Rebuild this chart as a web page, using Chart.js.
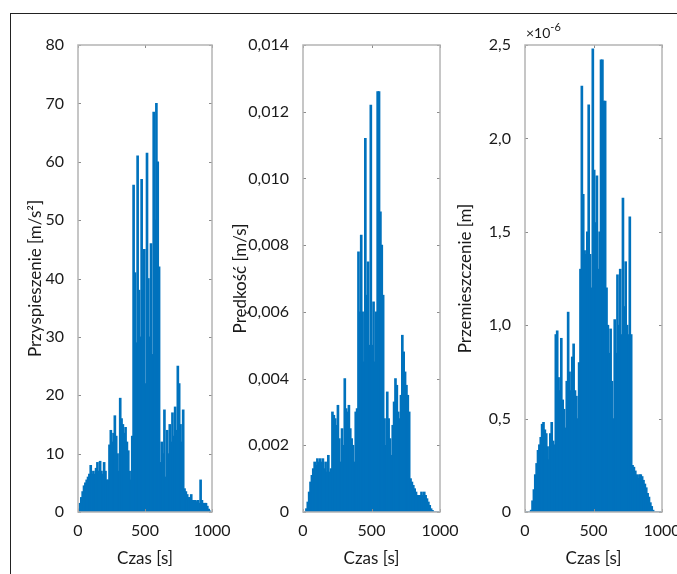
<!DOCTYPE html>
<html>
<head>
<meta charset="utf-8">
<script src="https://cdn.jsdelivr.net/npm/chart.js@4.4.1/dist/chart.umd.min.js"></script>
<style>
    body { margin: 0; background: #fff; overflow: hidden; width: 677px; height: 574px; position: relative; }
    .frame { position: absolute; left: 10px; top: 13px; width: 700px; height: 600px; border-left: 1px solid #222; border-top: 1px solid #222; }
    canvas { position: absolute; top: 20px; }
</style>
</head>
<body>
<div class="frame"></div>
<canvas id="accChart" width="220" height="554" style="left:12px"></canvas>
<canvas id="velChart" width="238" height="554" style="left:222px"></canvas>
<canvas id="dispChart" width="237" height="554" style="left:445px"></canvas>
<script>
// time bins [s]
const timeBins = [5, 15, 25, 35, 45, 55, 65, 75, 85, 95,
    105, 115, 125, 135, 145, 155, 165, 175, 185, 195,
    205, 215, 225, 235, 245, 255, 265, 275, 285, 295,
    305, 315, 325, 335, 345, 355, 365, 375, 385, 395,
    405, 415, 425, 435, 445, 455, 465, 475, 485, 495,
    505, 515, 525, 535, 545, 555, 565, 575, 585, 595,
    605, 615, 625, 635, 645, 655, 665, 675, 685, 695,
    705, 715, 725, 735, 745, 755, 765, 775, 785, 795,
    805, 815, 825, 835, 845, 855, 865, 875, 885, 895,
    905, 915, 925, 935, 945, 955, 965, 975, 985, 995];

// acceleration [m/s2]
const accValues = [0.5, 1.5, 2.5, 3.5, 4.5, 5, 5.5, 6, 6.5, 8,
    6.5, 7, 6.5, 7.5, 8.5, 7, 8.7, 7, 6.5, 8.5,
    7, 5.5, 5.5, 11.5, 14, 12, 13.5, 16.5, 13, 10,
    7, 19.5, 16, 15, 13.5, 14.5, 12, 10.5, 7, 5.5,
    13, 56, 41, 29, 61, 38, 30, 57, 38, 45,
    22, 61.5, 40, 30, 46, 27, 68.5, 50, 70, 60,
    42, 8.5, 12, 10, 17.5, 6, 14, 10, 15, 12,
    17, 13, 18, 14, 25, 22, 15, 12, 17.5, 4,
    3.5, 3, 2.5, 2.5, 3, 2, 2, 2, 1.8, 2,
    1.5, 5.5, 2, 1.5, 1.5, 1.5, 1, 0.5, 0.2, 0];

// velocity [m/s]
const velValues = [0, 0, 0.0001, 0.0003, 0.0006, 0.0009, 0.0011, 0.0013, 0.0015, 0.0014,
    0.0016, 0.0015, 0.0016, 0.0015, 0.0016, 0.0013, 0.0015, 0.0012, 0.0017, 0.0012,
    0.0013, 0.003, 0.0029, 0.0028, 0.0026, 0.0032, 0.0022, 0.0015, 0.0025, 0.002,
    0.004, 0.0031, 0.003, 0.0032, 0.0025, 0.0022, 0.002, 0.0015, 0.003, 0.0031,
    0.0078, 0.006, 0.0083, 0.006, 0.0045, 0.0112, 0.0065, 0.0075, 0.005, 0.0122,
    0.005, 0.0063, 0.0045, 0.006, 0.0126, 0.0126, 0.009, 0.008, 0.0065, 0.0028,
    0.002, 0.0036, 0.0028, 0.0022, 0.0017, 0.0026, 0.0033, 0.004, 0.0038, 0.003,
    0.0028, 0.0035, 0.0053, 0.0048, 0.0042, 0.0038, 0.0035, 0.003, 0.001, 0.0009,
    0.0008, 0.0007, 0.0006, 0.0005, 0.0005, 0.0005, 0.0006, 0.0005, 0.0006, 0.0005,
    0.0004, 0.0003, 0.0002, 0.0001, 0.00005, 0, 0, 0, 0, 0];

// displacement [x1e-6 m]
const dispValues = [0, 0, 0, 0, 0.01, 0.06, 0.12, 0.2, 0.26, 0.33,
    0.36, 0.4, 0.47, 0.48, 0.44, 0.42, 0.35, 0.28, 0.42, 0.48,
    0.38, 0.36, 0.95, 0.97, 0.72, 0.65, 0.93, 0.6, 0.55, 0.45,
    0.7, 1.07, 0.75, 0.65, 0.83, 0.9, 0.65, 0.62, 0.5, 0.8,
    1.3, 2.28, 1.7, 1.4, 1.38, 1.5, 2.18, 1.38, 1.2, 2.48,
    1.83, 1.55, 1.8, 1.3, 1.5, 2.42, 2.42, 2.2, 2.2, 1.2,
    1.0, 0.85, 0.98, 0.7, 0.5, 1.03, 0.85, 1.27, 1.0, 1.3,
    0.95, 1.68, 1.1, 1.34, 1.0, 0.95, 1.58, 0.95, 0.25, 0.24,
    0.22, 0.2, 0.18, 0.2, 0.2, 0.19, 0.17, 0.15, 0.13, 0.1,
    0.08, 0.05, 0.03, 0.01, 0, 0, 0, 0, 0, 0];

const xTicks = [0, 500, 1000];
const FONT = 'Lato, "Open Sans", sans-serif';
const TEXT = '#1a1a1a';
const BAR = '#0072BD';

// box with inward ticks, like the original plots
const boxPlugin = {
    id: 'matlabBox',
    afterDatasetsDraw(chart) {
        const { ctx, chartArea: a, scales } = chart;
        ctx.save();
        ctx.strokeStyle = '#8c8c8c';
        ctx.lineWidth = 1;
        scales.y.ticks.forEach(t => {
            const y = Math.round(scales.y.getPixelForValue(t.value)) + 0.5;
            ctx.beginPath();
            ctx.moveTo(a.left, y); ctx.lineTo(a.left + 3, y);
            ctx.moveTo(a.right, y); ctx.lineTo(a.right - 3, y);
            ctx.stroke();
        });
        scales.x.ticks.forEach(t => {
            const x = Math.round(scales.x.getPixelForValue(t.value)) + 0.5;
            ctx.beginPath();
            ctx.moveTo(x, a.top); ctx.lineTo(x, a.top + 3);
            ctx.moveTo(x, a.bottom); ctx.lineTo(x, a.bottom - 3);
            ctx.stroke();
        });
        ctx.strokeStyle = '#b4b4b4';
        ctx.lineWidth = 1.5;
        ctx.strokeRect(a.left, a.top, a.right - a.left, a.bottom - a.top);
        // exponent label
        if (chart.options.plugins.matlabBox && chart.options.plugins.matlabBox.exponent) {
            ctx.fillStyle = TEXT;
            ctx.textBaseline = 'alphabetic';
            ctx.font = '14px ' + FONT;
            ctx.fillText('×10', a.left + 1, a.top - 7);
            const w = ctx.measureText('×10').width;
            ctx.font = '11px ' + FONT;
            ctx.fillText('-6', a.left + 1 + w, a.top - 14);
        }
        ctx.restore();
    }
};

function makeChart(canvasId, values, cfg) {
    const ctx = document.getElementById(canvasId).getContext('2d');
    return new Chart(ctx, {
        type: 'bar',
        data: {
            datasets: [{
                data: timeBins.map((t, i) => ({ x: t, y: values[i] })),
                backgroundColor: BAR,
                borderWidth: 0,
                barThickness: 2
            }]
        },
        options: {
            responsive: false,
            animation: false,
            layout: { padding: { top: 25, right: cfg.padRight, left: 0, bottom: 0 } },
            plugins: {
                legend: { display: false },
                tooltip: { enabled: false },
                matlabBox: { exponent: cfg.exponent }
            },
            scales: {
                x: {
                    type: 'linear',
                    min: 0,
                    max: 1000,
                    offset: false,
                    grid: { display: false },
                    border: { display: false },
                    afterBuildTicks: s => { s.ticks = xTicks.map(v => ({ value: v })); },
                    afterFit: s => { s.height = 62; },
                    ticks: {
                        color: TEXT,
                        font: { family: FONT, size: 16 },
                        padding: 1,
                        maxRotation: 0,
                        callback: v => String(v)
                    },
                    title: {
                        display: true,
                        text: 'Czas [s]',
                        color: TEXT,
                        font: { family: FONT, size: 17 },
                        padding: { top: 0, bottom: 5 }
                    }
                },
                y: {
                    min: 0,
                    max: cfg.max,
                    grid: { display: false },
                    border: { display: false },
                    afterFit: s => { s.width = cfg.axisWidth; },
                    ticks: {
                        stepSize: cfg.step,
                        color: TEXT,
                        font: { family: FONT, size: 16 },
                        padding: 6,
                        callback: cfg.format
                    },
                    title: {
                        display: true,
                        text: cfg.title,
                        color: TEXT,
                        font: { family: FONT, size: 17 },
                        padding: { top: cfg.titlePad, bottom: 0 }
                    }
                }
            }
        },
        plugins: [boxPlugin]
    });
}

const comma = d => v => v === 0 ? '0' : v.toFixed(d).replace('.', ',');

makeChart('accChart', accValues, {
    max: 80, step: 10, title: 'Przyspieszenie [m/s²]', axisWidth: 66, titlePad: 13,
    padRight: 20, format: v => String(v), exponent: false
});
makeChart('velChart', velValues, {
    max: 0.014, step: 0.002, title: 'Prędkość [m/s]', axisWidth: 81, titlePad: 8,
    padRight: 20, format: comma(3), exponent: false
});
makeChart('dispChart', dispValues, {
    max: 2.5, step: 0.5, title: 'Przemieszczenie [m]', axisWidth: 80, titlePad: 10,
    padRight: 20, format: comma(1), exponent: true
});
</script>
</body>
</html>
